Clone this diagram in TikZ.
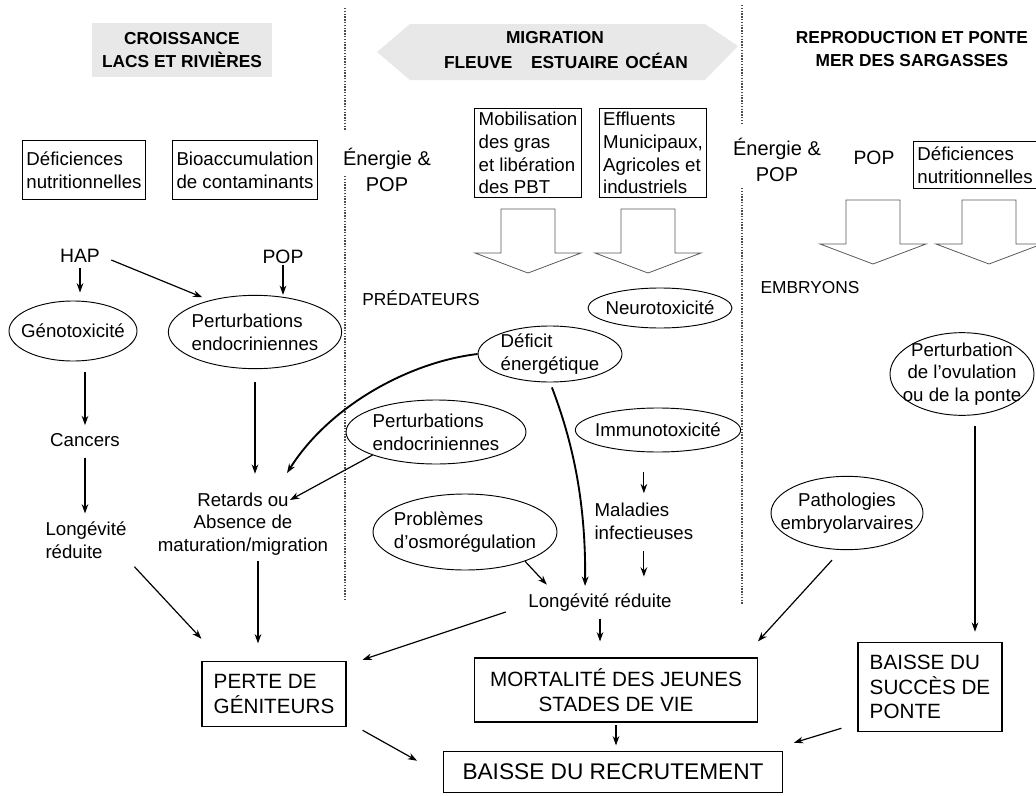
\documentclass[tikz,border=0pt]{standalone}
\usepackage{fontspec}
\setmainfont{Liberation Sans}
\usetikzlibrary{shapes.geometric, arrows.meta}
\tikzset{>={Stealth[length=7pt, width=5pt]}}
\tikzset{
  txt/.style={font=\fontsize{14}{17}\selectfont, align=left, inner sep=1pt},
  boite/.style={txt, draw, line width=0.7pt, inner xsep=3pt, inner ysep=3pt},
  ovale/.style={txt, draw, ellipse, line width=0.7pt, inner sep=-12pt},
  titre/.style={font=\bfseries\fontsize{13}{17}\selectfont, align=center},
  energ/.style={font=\fontsize{15}{19}\selectfont, align=center},
  polluant/.style={font=\fontsize{14.5}{17}\selectfont, inner sep=1pt},
  etiq/.style={font=\fontsize{13}{16}\selectfont},
  grand/.style={draw, line width=0.9pt, font=\fontsize{15.5}{18.5}\selectfont, align=left},
  fl/.style={->, line width=0.9pt},
  courbe/.style={->, line width=1.4pt},
  pointille/.style={densely dotted, line width=1.1pt, gray!60!black},
  creuse/.pic={\draw[gray!70!black, line width=0.6pt] (-27,0) -- (27,0) -- (27,44) -- (53,44) -- (0,64) -- (-53,44) -- (-27,44) -- cycle;}
}

\begin{document}
\begin{tikzpicture}[x=0.75pt, y=-0.75pt]
    \useasboundingbox (0,0) rectangle (1036,796);
    \clip (0,0) rectangle (1036,796);
    \node[titre, fill=gray!18, minimum width=135pt, minimum height=41pt] (croiss) at (182,50) {CROISSANCE\\LACS ET RIVIÈRES};
    \fill[gray!18] (377,52) -- (410,24) -- (705,24) -- (738,46) -- (705,80) -- (410,80) -- cycle;
    \node[titre] (migr) at (555,38) {MIGRATION};
    \node[titre] (milieux) at (566,61) {FLEUVE\hspace{14pt}ESTUAIRE\hspace{5pt}OCÉAN};
    \node[titre] (repro) at (912,49) {REPRODUCTION ET PONTE\\MER DES SARGASSES};
    \draw[pointille] (345,8) -- (345,130) (345,176) -- (345,600);
    \draw[pointille] (742,5) -- (742,125) (742,188) -- (742,605);

    \node[boite, minimum height=44pt] (defA) at (84,170) {Déficiences\\nutritionnelles};
    \node[boite, minimum height=44pt] (bioacc) at (245,170) {Bioaccumulation\\de contaminants};
    \node[energ] (enA) at (387,170) {Énergie \&\\POP};
    \node[polluant] (hap) at (80,256) {HAP};
    \node[polluant] (popA) at (283,257) {POP};
    \node[ovale, minimum width=96pt, minimum height=45pt, align=center] (geno) at (73,331) {Génotoxicité};
    \node[ovale, minimum width=130pt, minimum height=55pt] (pertA) at (255,332) {Perturbations\\endocriniennes};
    \node[txt] (cancers) at (85,440) {Cancers};
    \node[txt] (longA) at (86,540) {Longévité\\réduite};
    \node[txt, align=center] (retards) at (243,524) {Retards ou\\Absence de\\maturation/migration};

    \node[boite] (mobil) at (528,153) {Mobilisation\\des gras\\et libération\\des PBT};
    \node[boite] (efflu) at (653,153) {Effluents\\Municipaux,\\Agricoles et\\industriels};
    \pic at (528,209) {creuse};
    \pic at (648,209) {creuse};
    \node[etiq] (preda) at (421,298) {PRÉDATEURS};
    \node[ovale, minimum width=108pt, minimum height=30pt] (neuro) at (660,308) {Neurotoxicité};
    \node[ovale, minimum width=108pt, minimum height=42pt] (deficit) at (550,354) {Déficit\\énergétique};
    \node[ovale, minimum width=135pt, minimum height=48pt] (pertB) at (436,432) {Perturbations\\endocriniennes};
    \node[ovale, minimum width=124pt, minimum height=33pt] (immuno) at (658,430) {Immunotoxicité};
    \node[ovale, minimum width=138pt, minimum height=57pt] (osmo) at (465,532) {Problèmes\\d'osmorégulation};
    \node[txt, anchor=west] (maladies) at (593,521) {Maladies\\infectieuses};
    \node[txt] (longB) at (600,603) {Longévité réduite};

    \node[energ] (enB) at (777,160) {Énergie \&\\POP};
    \node[polluant] (popB) at (874,158) {POP};
    \node[boite, anchor=west, minimum height=35pt] (defB) at (913,165) {Déficiences\\nutritionnelles};
    \pic at (873,200) {creuse};
    \pic at (989,200) {creuse};
    \node[etiq] (embry) at (810,288) {EMBRYONS};
    \node[ovale, minimum width=108pt, minimum height=62pt, align=center] (ovul) at (962,374) {Perturbation\\de l'ovulation\\ou de la ponte};
    \node[ovale, minimum width=114pt, minimum height=55pt, align=center] (patho) at (847,513) {Pathologies\\embryolarvaires};

    \node[grand, minimum width=108pt, minimum height=49pt] (perte) at (274,694) {PERTE DE\\GÉNITEURS};
    \node[grand, minimum width=212pt, minimum height=48pt, align=center] (mortal) at (616,690) {MORTALITÉ DES JEUNES\\STADES DE VIE};
    \node[grand, minimum width=108pt, minimum height=67pt] (succes) at (930,687) {BAISSE DU\\SUCCÈS DE\\PONTE};
    \node[grand, font=\fontsize{17}{20}\selectfont, minimum width=254pt, minimum height=31pt] (recrut) at (613,772) {BAISSE DU RECRUTEMENT};

    \draw[fl, shorten <=3pt, shorten >=6pt] (hap) -- (hap |- geno.north);
    \draw[fl, shorten <=8pt, shorten >=6pt] (hap.east) -- (pertA.145);
    \draw[fl] (popA) -- (popA |- pertA.north);
    \draw[fl, shorten <=8pt, shorten >=5pt] (cancers |- geno.south) -- (cancers);
    \draw[fl, shorten <=7pt, shorten >=5pt] (cancers) -- (cancers |- longA.north);
    \draw[fl, shorten <=10pt, shorten >=13pt] (pertA) -- (pertA |- retards.north);
    \draw[courbe] (deficit.west) .. controls (410,362) and (330,405) .. ([shift={(44,-18)}]retards.north);
    \draw[courbe, shorten <=4pt, shorten >=5pt] (deficit.south) .. controls (572,440) and (586,500) .. ([shift={(-15,0)}]longB.north);
    \draw[fl] (pertB.200) -- ([shift={(47,-24)}]retards.center);
    \draw[fl] (osmo.-26) -- ([shift={(20,-8)}]longB.north west);
    \draw[fl, shorten <=15pt, shorten >=6pt] (immuno.south -| maladies.north) -- (maladies.north);
    \draw[fl, shorten <=8pt, shorten >=12pt] (maladies.south) -- (maladies.south |- longB.north);
    \draw[fl, shorten <=4pt, shorten >=12pt] (longB.south) -- (longB.south |- mortal.north);
    \draw[fl] ([shift={(-21,9)}]longB.west) -- ([shift={(16,-1)}]perte.north east);
    \draw[fl, shorten <=7pt] (longA.south east) -- ([shift={(0,-22)}]perte.north west);
    \draw[fl, shorten <=3pt, shorten >=13pt] ([shift={(15,0)}]retards.south) -- ([shift={(-16,0)}]perte.north);
    \draw[fl] ([shift={(16,3)}]perte.south east) -- ([shift={(-26,10)}]recrut.north west);
    \draw[fl, shorten <=2pt, shorten >=4pt] (mortal.south) -- (mortal.south |- recrut.north);
    \draw[fl] ([shift={(-16,-4)}]succes.south west) -- ([shift={(11,-8)}]recrut.north east);
    \draw[fl] ([shift={(13,10)}]ovul.south) -- ([shift={(45,-10)}]succes.north);
    \draw[fl] ([shift={(-15,10)}]patho.south) -- ([shift={(0,-16)}]mortal.north east);
\end{tikzpicture}
\end{document}
